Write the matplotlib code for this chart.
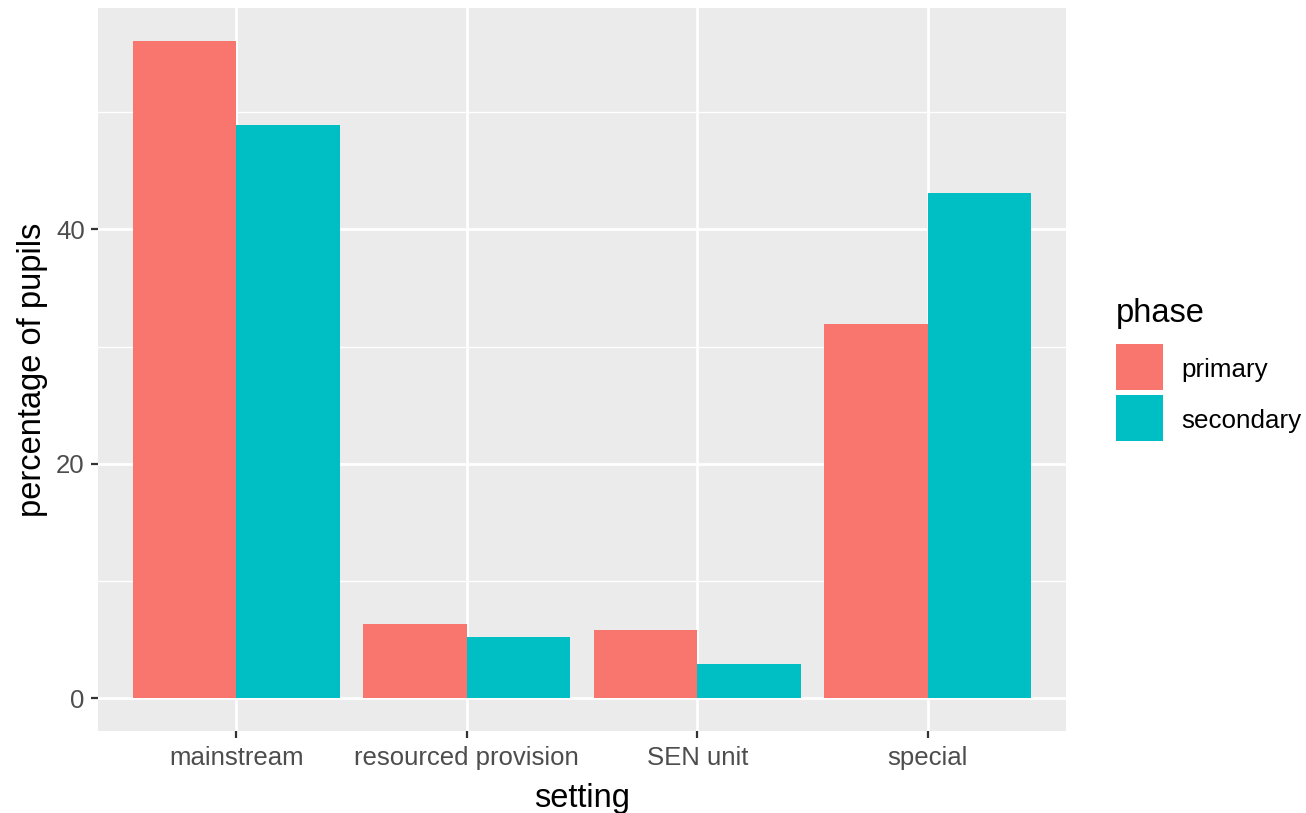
import matplotlib
matplotlib.use("Agg")
import matplotlib.pyplot as plt
from matplotlib.patches import Rectangle
import numpy as np

plt.rcParams['font.family'] = ['Liberation Sans', 'DejaVu Sans']

settings = ["mainstream", "resourced provision", "SEN unit", "special"]
phases = ["primary", "secondary"]
primary = [56.1, 6.35, 5.85, 31.9]
secondary = [48.9, 5.25, 2.95, 43.1]
colors = ["#F8766D", "#00BFC4"]
yticks = [0, 20, 40]

W, H = 1306, 813
fig = plt.figure(figsize=(W / 100, H / 100), dpi=100)
ax = fig.add_axes([98 / W, 1 - 731 / H, (1066 - 98) / W, (731 - 8) / H])
ax.set_facecolor("#EBEBEB")

x = np.arange(1, len(settings) + 1)
bw = 0.45
ax.bar(x - bw / 2, primary, width=bw, color=colors[0], zorder=3)
ax.bar(x + bw / 2, secondary, width=bw, color=colors[1], zorder=3)

ymax = max(max(primary), max(secondary))
ax.set_xlim(0.4, 4.6)
ax.set_ylim(-0.05 * ymax, ymax * 1.05)

ax.set_yticks(yticks)
ax.set_yticks([10, 30, 50], minor=True)
ax.set_xticks(x)
ax.set_xticklabels(settings)
ax.grid(which="major", color="white", linewidth=2.0, zorder=0)
ax.grid(which="minor", axis="y", color="white", linewidth=1.0, zorder=0)
ax.set_axisbelow(True)
for s in ax.spines.values():
    s.set_visible(False)
ax.tick_params(which="major", length=5, width=1.6, color="#333333",
               labelsize=18.5, labelcolor="#4D4D4D")
ax.tick_params(axis="x", pad=5.5)
ax.tick_params(axis="y", pad=4.5)
ax.tick_params(which="minor", length=0)

ax.set_xlabel("setting", fontsize=23.5, color="black", labelpad=10)
ax.set_ylabel("percentage of pupils", fontsize=23.5, color="black", labelpad=6)

# legend
fig.text(1116 / W, 1 - 313 / H, "phase", fontsize=23.5, va="center", ha="left")
for i, (lab, c) in enumerate(zip(phases, colors)):
    y0 = 344 + i * 51
    fig.add_artist(Rectangle((1116 / W, 1 - (y0 + 46) / H), 47 / W, 46 / H,
                             transform=fig.transFigure, facecolor=c, edgecolor="none"))
    fig.text(1181 / W, 1 - (y0 + 26) / H, lab, fontsize=18.7, va="center", ha="left")

fig.savefig("out.png", dpi=100)
